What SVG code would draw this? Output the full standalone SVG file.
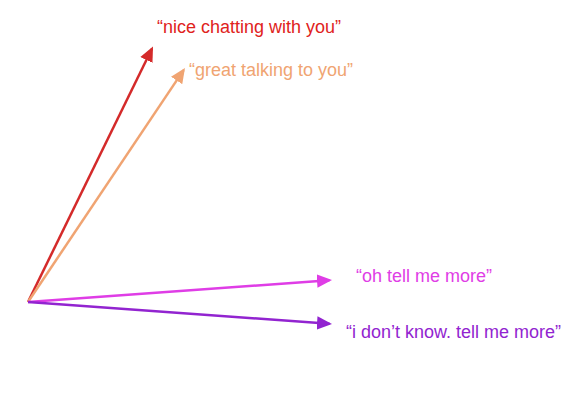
<svg xmlns="http://www.w3.org/2000/svg" width="569" height="416" viewBox="0 0 569 416">
<style>
.l{font-family:"Liberation Sans",Arial,sans-serif;font-size:18px}
.s{stroke-width:2.5;fill:none}
</style>
<defs>
<marker id="mr" markerWidth="6" markerHeight="6" refX="5" refY="3" orient="auto" markerUnits="strokeWidth"><path d="M0,0.3 L6,3 L0,5.7 Z" fill="#d42a2a"/></marker>
<marker id="mo" markerWidth="6" markerHeight="6" refX="5" refY="3" orient="auto" markerUnits="strokeWidth"><path d="M0,0.3 L6,3 L0,5.7 Z" fill="#f0a472"/></marker>
<marker id="mm" markerWidth="6" markerHeight="6" refX="5" refY="3" orient="auto" markerUnits="strokeWidth"><path d="M0,0.3 L6,3 L0,5.7 Z" fill="#df3de6"/></marker>
<marker id="mp" markerWidth="6" markerHeight="6" refX="5" refY="3" orient="auto" markerUnits="strokeWidth"><path d="M0,0.3 L6,3 L0,5.7 Z" fill="#9224d0"/></marker>
</defs>
<rect width="569" height="416" fill="#fff"/>
<g id="connectors">
<line class="s" x1="28" y1="302" x2="151.9" y2="48.7" stroke="#d42a2a" marker-end="url(#mr)"/>
<line class="s" x1="28" y1="302" x2="183.6" y2="70.1" stroke="#f0a472" marker-end="url(#mo)"/>
<line class="s" x1="28" y1="302" x2="329.5" y2="280.2" stroke="#df3de6" marker-end="url(#mm)"/>
<line class="s" x1="28" y1="302" x2="329.5" y2="323.8" stroke="#9224d0" marker-end="url(#mp)"/>
</g>
<g id="nice"><text class="l" x="157" y="33" fill="#e0221c">“nice chatting with you”</text></g>
<g id="great"><text class="l" x="189" y="76" fill="#f0a472">“great talking to you”</text></g>
<g id="oh"><text class="l" x="356" y="282" fill="#df3de6">“oh tell me more”</text></g>
<g id="idk"><text class="l" x="346" y="338" fill="#9224d0">“i don’t know. tell me more”</text></g>
</svg>
